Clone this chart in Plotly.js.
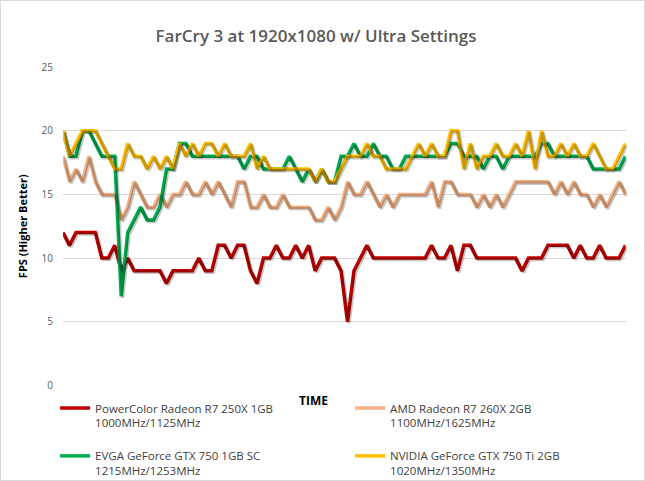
<!DOCTYPE html>
<html>
<head>
<meta charset="utf-8">
<script src="https://cdn.plot.ly/plotly-3.0.1.min.js"></script>
<style>
html, body { margin: 0; padding: 0; background: #fff; }
#chart { width: 645px; height: 481px; }
#frame { position: absolute; left: 0; top: 0; width: 643px; height: 479px; border: 1px solid #d9d9d9; pointer-events: none; }
</style>
</head>
<body>
<div id="chart"></div>
<div id="frame"></div>
<script>
// FPS per second of the FarCry 3 run
var powercolor250x = [12,11,12,12,12,12,10,10,11,9, 10,9,9,9,9,9,8,9,9,9,
  9,10,9,9,11,11,10,11,11,9, 8,10,10,11,10,10,11,10,11,9,
  10,10,10,9,5,9,10,11,10,10, 10,10,10,10,10,10,10,11,10,10,
  11,9,11,11,10,10,10,10,10,10, 10,9,10,10,10,11,11,11,11,10,
  11,10,10,11,10,10,10,11];
var amd260x = [18,16,17,16,18,16,15,15,15,13, 14,16,15,14,14,15,14,15,15,16,
  15,15,16,15,16,15,14,16,16,14, 14,15,14,14,15,14,14,14,14,13,
  13,14,13,14,16,15,15,16,15,14, 15,14,15,15,15,15,15,16,14,16,
  16,15,15,15,14,15,14,15,14,15, 16,16,16,16,16,16,15,16,15,16,
  15,15,14,15,14,15,16,15];
var evga750 = [20,18,18,20,20,19,18,18,18,7, 12,13,14,13,13,14,17,17,19,19,
  18,18,18,18,18,18,18,18,17,18, 18,17,17,17,17,18,17,16,17,16,
  17,16,16,18,18,19,18,18,19,18, 18,17,17,18,18,18,18,18,18,18,
  19,19,18,18,18,17,18,18,17,18, 18,18,18,18,19,19,18,18,18,18,
  18,18,17,17,17,17,17,18];
var nvidia750ti = [20,18,19,20,20,20,19,18,17,17, 19,18,18,17,18,17,18,17,19,18,
  19,18,19,19,18,19,18,18,18,19, 17,18,17,17,17,17,17,17,17,16,
  17,16,16,17,18,18,18,19,18,18, 17,17,17,17,18,19,18,19,18,18,
  20,20,17,19,17,18,18,19,18,18, 19,18,20,17,20,18,18,19,18,19,
  18,18,19,18,17,17,18,19];

var names = [
  'PowerColor Radeon R7 250X 1GB<br>1000MHz/1125MHz',
  'AMD Radeon R7 260X 2GB<br>1100MHz/1625MHz',
  'EVGA GeForce GTX 750 1GB SC<br>1215MHz/1253MHz',
  'NVIDIA GeForce GTX 750 Ti 2GB<br>1020MHz/1350MHz'
];
var series = [powercolor250x, amd260x, evga750, nvidia750ti];
var colors = ['#c00000', '#f4b183', '#00b050', '#ffc000'];

// soft drop shadow like the Excel original, on a slightly shifted axis pair
var shadows = series.map(function (s) {
  return {
    y: s, xaxis: 'x2', yaxis: 'y2',
    type: 'scatter', mode: 'lines',
    line: {color: 'rgba(0,0,0,0.22)', width: 3.5},
    showlegend: false, hoverinfo: 'skip'
  };
});

var lines = series.map(function (s, i) {
  return {
    y: s,
    // blank third line on the first row keeps the rows apart
    name: i < 2 ? names[i] + '<br> ' : names[i],
    type: 'scatter',
    mode: 'lines',
    line: {color: colors[i], width: 3.5},
    hoverinfo: 'y'
  };
});

var sh = 1.5 / 564, sv = 1.5 / 320;

var layout = {
  width: 645,
  height: 481,
  margin: {l: 63, r: 18, t: 67, b: 94, autoexpand: false},
  paper_bgcolor: '#fff',
  plot_bgcolor: 'rgba(0,0,0,0)',
  font: {family: 'Open Sans, sans-serif', color: '#595959'},
  title: {
    text: 'FarCry 3 at 1920x1080 w/ Ultra Settings',
    font: {size: 17, color: '#595959', weight: 600},
    x: 0.49, xanchor: 'center',
    y: 0.925, yanchor: 'middle'
  },
  xaxis: {
    range: [0, 87], domain: [0, 1 - sh],
    showgrid: false, zeroline: false, showline: false,
    showticklabels: false, ticks: ''
  },
  yaxis: {
    range: [0, 25], domain: [sv, 1],
    dtick: 5,
    gridcolor: '#d9d9d9',
    zeroline: false, showline: false, ticks: '',
    ticklabelstandoff: 9,
    tickfont: {size: 10, color: '#595959'},
    title: {text: '<b>FPS (Higher Better)</b>', font: {size: 11, color: '#000'}, standoff: 11}
  },
  xaxis2: {
    range: [0, 87], domain: [sh, 1], anchor: 'y2',
    showgrid: false, zeroline: false, showline: false,
    showticklabels: false, ticks: ''
  },
  yaxis2: {
    range: [0, 25], domain: [0, 1 - sv], anchor: 'x2',
    showgrid: false, zeroline: false, showline: false,
    showticklabels: false, ticks: ''
  },
  annotations: [{
    text: '<b>TIME</b>',
    xref: 'paper', yref: 'paper',
    x: (313 - 63) / 564, y: (387 - 400) / 320,
    xanchor: 'center', yanchor: 'middle',
    showarrow: false,
    font: {size: 12, color: '#000'}
  }],
  showlegend: true,
  legend: {
    orientation: 'h',
    x: -0.014, xanchor: 'left',
    y: -0.022, yanchor: 'top',
    entrywidth: 250,
    valign: 'top',
    font: {size: 11.5, color: '#404040'},
    bgcolor: 'rgba(0,0,0,0)'
  }
};

Plotly.newPlot('chart', shadows.concat(lines), layout, {displayModeBar: false});
</script>
</body>
</html>
